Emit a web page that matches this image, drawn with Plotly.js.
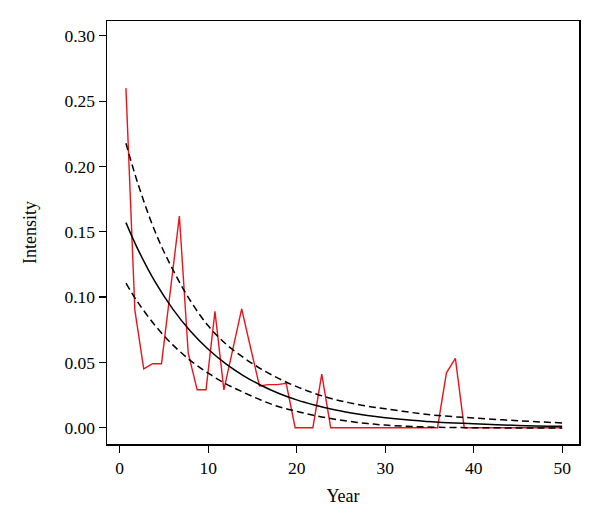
<!DOCTYPE html>
<html>
<head>
<meta charset="utf-8">
<script src="https://cdn.plot.ly/plotly-3.0.1.min.js"></script>
<style>
html,body{margin:0;padding:0;background:#fff;}
#chart{width:600px;height:528px;}
</style>
</head>
<body>
<div id="chart"></div>
<script>
// Observed intensity per year (red line)
const obsYears = [0.70, 1.71, 2.71, 3.72, 4.72, 5.73, 6.74, 7.74, 8.75, 9.75,
  10.76, 11.77, 12.77, 13.78, 14.79, 15.79, 16.80, 17.80, 18.81, 19.82,
  20.82, 21.83, 22.83, 23.84, 24.85, 25.85, 26.86, 27.86, 28.87, 29.88,
  30.88, 31.89, 32.90, 33.90, 34.91, 35.91, 36.92, 37.93, 38.93, 39.94,
  40.94, 41.95, 42.96, 43.96, 44.97, 45.97, 46.98, 47.99, 48.99, 50.00];
const obsIntensity = [0.260, 0.090, 0.045, 0.049, 0.049, 0.105, 0.162, 0.057, 0.029, 0.029,
  0.089, 0.029, 0.060, 0.091, 0.061, 0.032, 0.033, 0.033, 0.034, 0.000,
  0.000, 0.000, 0.041, 0.000, 0.000, 0.000, 0.000, 0.000, 0.000, 0.000,
  0.000, 0.000, 0.000, 0.000, 0.000, 0.000, 0.042, 0.053, 0.000, 0.000,
  0.000, 0.000, 0.000, 0.000, 0.000, 0.000, 0.000, 0.000, 0.000, 0.000];

// Fitted curve and confidence band (black lines)
const fitYears = [0.7, 2, 4, 6, 8, 10, 12, 14, 16, 18, 20, 22, 24, 26, 28, 30, 33, 36, 40, 45, 50];
const fitMean  = [0.157, 0.1373, 0.1116, 0.0908, 0.0738, 0.0600, 0.0488, 0.0397, 0.0323, 0.0262,
  0.0213, 0.0174, 0.0141, 0.0115, 0.0093, 0.0076, 0.0056, 0.0041, 0.0030, 0.0017, 0.0010];
const fitUpper = [0.2178, 0.188, 0.150, 0.121, 0.097, 0.078, 0.064, 0.0536, 0.0449, 0.0375,
  0.0314, 0.0263, 0.0221, 0.0190, 0.0164, 0.0145, 0.0116, 0.0093, 0.0074, 0.0053, 0.0036];
const fitLower = [0.1106, 0.0965, 0.0782, 0.0634, 0.0514, 0.0417, 0.0336, 0.027, 0.021, 0.016,
  0.0125, 0.0093, 0.0068, 0.0048, 0.0032, 0.0020, 0.0009, 0.0003, 0.0000, -0.0002, -0.0003];

const xTicks = [0, 10, 20, 30, 40, 50];
const yTicks = [0.00, 0.05, 0.10, 0.15, 0.20, 0.25, 0.30];

const FONT = 'Liberation Serif, Times New Roman, serif';

const traces = [
  {x: obsYears, y: obsIntensity, type: 'scatter', mode: 'lines',
   line: {color: 'rgb(232,20,28)', width: 1.4}, name: 'Observed'},
  {x: fitYears, y: fitMean, type: 'scatter', mode: 'lines',
   line: {color: '#000', width: 1.5, shape: 'spline'}, name: 'Fit'},
  {x: fitYears, y: fitUpper, type: 'scatter', mode: 'lines',
   line: {color: '#000', width: 1.5, dash: '7px,4px', shape: 'spline'}, name: 'Upper'},
  {x: fitYears, y: fitLower, type: 'scatter', mode: 'lines',
   line: {color: '#000', width: 1.5, dash: '7px,4px', shape: 'spline'}, name: 'Lower'}
];

const layout = {
  width: 600, height: 528,
  margin: {l: 107, r: 21, t: 21, b: 84},
  paper_bgcolor: '#fff', plot_bgcolor: '#fff',
  showlegend: false,
  font: {family: FONT, size: 17, color: '#000'},
  xaxis: {
    range: [-1.44, 51.9],
    tickvals: xTicks, ticktext: xTicks.map(String),
    ticks: 'outside', ticklen: 7, tickwidth: 1.2, tickcolor: '#000',
    showline: true, mirror: true, linecolor: '#000', linewidth: 1.5,
    showgrid: false, zeroline: false,
    tickfont: {family: FONT, size: 17.5, color: '#000'},
    title: {text: 'Year', font: {family: FONT, size: 18, color: '#000'}, standoff: 13},
    automargin: false
  },
  yaxis: {
    range: [-0.0125, 0.3114],
    tickvals: yTicks, ticktext: yTicks.map(v => v.toFixed(2)),
    ticks: 'outside', ticklen: 7, tickwidth: 1.2, tickcolor: '#000',
    showline: true, mirror: true, linecolor: '#000', linewidth: 1.5,
    showgrid: false, zeroline: false,
    tickfont: {family: FONT, size: 17.5, color: '#000'},
    title: {text: 'Intensity', font: {family: FONT, size: 18, color: '#000'}, standoff: 23},
    automargin: false
  }
};

Plotly.newPlot('chart', traces, layout, {displayModeBar: false, staticPlot: true});
</script>
</body>
</html>
